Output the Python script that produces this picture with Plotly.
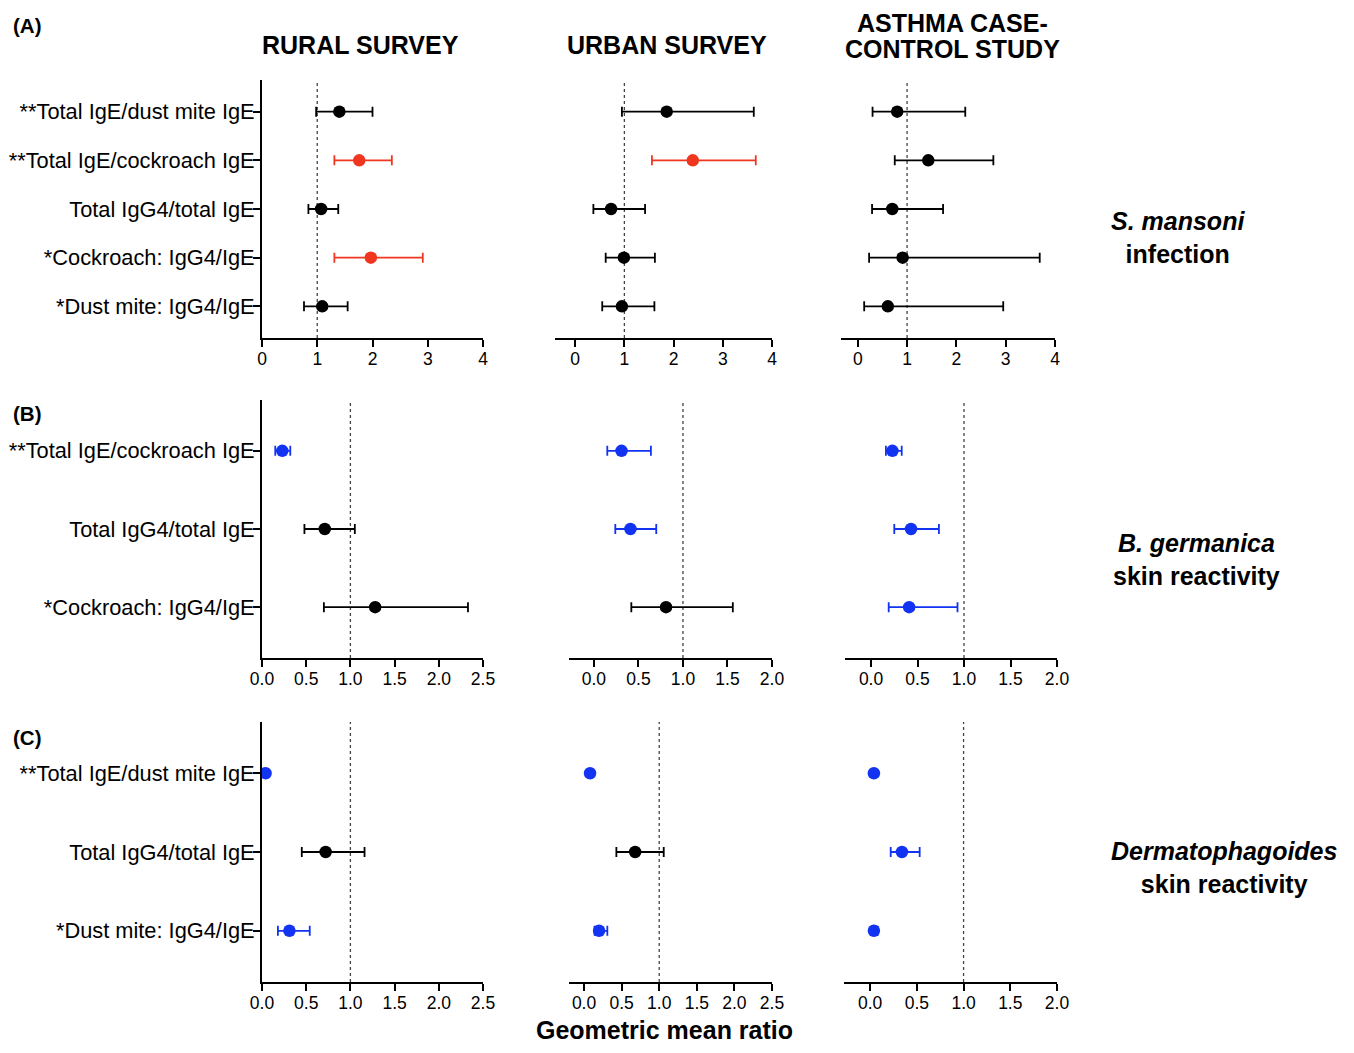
import plotly.graph_objects as go

W, H = 1354, 1053          # reference picture size
FW, FH = W - 16, H - 16    # figure size (page body has an 8px margin)

# ---------------- DATA ----------------
labels_A = ["**Total IgE/dust mite IgE", "**Total IgE/cockroach IgE", "Total IgG4/total IgE",
            "*Cockroach: IgG4/IgE", "*Dust mite: IgG4/IgE"]
labels_B = ["**Total IgE/cockroach IgE", "Total IgG4/total IgE", "*Cockroach: IgG4/IgE"]
labels_C = ["**Total IgE/dust mite IgE", "Total IgG4/total IgE", "*Dust mite: IgG4/IgE"]

columns = ["RURAL SURVEY", "URBAN SURVEY", "ASTHMA CASE-", "CONTROL STUDY"]
row_titles = ["<b><i>S. mansoni</i></b><br><b>infection</b>",
              "<b><i>B. germanica</i></b><br><b>skin reactivity</b>",
              "<b><i>Dermatophagoides</i></b><br><b>skin reactivity</b>"]
panel_tags = ["(A)", "(B)", "(C)"]
x_title = "Geometric mean ratio"

# significance: "up" = significantly increased, "down" = significantly decreased, "ns" = not significant
rural_A_est = [1.40, 1.76, 1.07, 1.97, 1.09]
rural_A_low = [0.98, 1.31, 0.84, 1.31, 0.76]
rural_A_high = [2.00, 2.35, 1.38, 2.91, 1.55]
rural_A_sig = ["ns", "up", "ns", "up", "ns"]

urban_A_est = [1.86, 2.39, 0.73, 0.99, 0.95]
urban_A_low = [0.95, 1.56, 0.37, 0.62, 0.55]
urban_A_high = [3.63, 3.67, 1.42, 1.62, 1.61]
urban_A_sig = ["ns", "up", "ns", "ns", "ns"]

asthma_A_est = [0.80, 1.43, 0.70, 0.91, 0.61]
asthma_A_low = [0.30, 0.75, 0.29, 0.23, 0.13]
asthma_A_high = [2.18, 2.75, 1.73, 3.69, 2.95]
asthma_A_sig = ["ns", "ns", "ns", "ns", "ns"]

rural_B_est = [0.23, 0.71, 1.28]
rural_B_low = [0.15, 0.48, 0.70]
rural_B_high = [0.32, 1.05, 2.33]
rural_B_sig = ["down", "ns", "ns"]

urban_B_est = [0.31, 0.41, 0.81]
urban_B_low = [0.15, 0.24, 0.42]
urban_B_high = [0.64, 0.70, 1.56]
urban_B_sig = ["down", "down", "ns"]

asthma_B_est = [0.23, 0.43, 0.41]
asthma_B_low = [0.16, 0.25, 0.19]
asthma_B_high = [0.33, 0.73, 0.93]
asthma_B_sig = ["down", "down", "down"]

rural_C_est = [0.04, 0.72, 0.31]
rural_C_low = [0.02, 0.45, 0.18]
rural_C_high = [0.07, 1.16, 0.54]
rural_C_sig = ["down", "ns", "down"]

urban_C_est = [0.08, 0.68, 0.20]
urban_C_low = [0.05, 0.43, 0.14]
urban_C_high = [0.11, 1.06, 0.31]
urban_C_sig = ["down", "ns", "down"]

asthma_C_est = [0.04, 0.34, 0.04]
asthma_C_low = [0.03, 0.22, 0.02]
asthma_C_high = [0.05, 0.53, 0.08]
asthma_C_sig = ["down", "down", "down"]

x_ranges = {
    "A": [[0, 4], [-0.41, 4], [-0.34, 4]],
    "B": [[0, 2.5], [-0.28, 2.0], [-0.28, 2.0]],
    "C": [[0, 2.5], [-0.2, 2.5], [-0.28, 2.0]],
}

# ---------------- STYLE / LAYOUT ----------------
COLORS = {"ns": "#000000", "up": "#F0361F", "down": "#1233F2"}
FONT = "Arial, Liberation Sans, Helvetica, sans-serif"


def px(x):
    return (x - 8) / FW


def py(y):
    return 1 - (y - 8) / FH


# pixel boxes for the plot areas: (x0, x1) per column per row, (ytop, ybottom) per row
x_boxes = {
    "A": [(262, 483), (555, 772), (841, 1055)],
    "B": [(262, 483), (569, 772), (845, 1057)],
    "C": [(262, 483), (569, 772), (844, 1057)],
}
y_boxes = {"A": (80, 338), "B": (400, 658), "C": (722, 982)}

panels = [
    ("A", labels_A, [
        (rural_A_est, rural_A_low, rural_A_high, rural_A_sig),
        (urban_A_est, urban_A_low, urban_A_high, urban_A_sig),
        (asthma_A_est, asthma_A_low, asthma_A_high, asthma_A_sig)]),
    ("B", labels_B, [
        (rural_B_est, rural_B_low, rural_B_high, rural_B_sig),
        (urban_B_est, urban_B_low, urban_B_high, urban_B_sig),
        (asthma_B_est, asthma_B_low, asthma_B_high, asthma_B_sig)]),
    ("C", labels_C, [
        (rural_C_est, rural_C_low, rural_C_high, rural_C_sig),
        (urban_C_est, urban_C_low, urban_C_high, urban_C_sig),
        (asthma_C_est, asthma_C_low, asthma_C_high, asthma_C_sig)]),
]

fig = go.Figure()
layout_axes = {}
shapes = []
idx = 0
for key, labels, cols in panels:
    n = len(labels)
    ypos = list(range(n, 0, -1))
    ytop, ybot = y_boxes[key]
    for c, (est, low, high, sig) in enumerate(cols):
        idx += 1
        xs = "" if idx == 1 else str(idx)
        xref, yref = "x" + xs, "y" + xs
        x0, x1 = x_boxes[key][c]
        for i in range(n):
            col = COLORS[sig[i]]
            fig.add_trace(go.Scatter(
                x=[est[i]], y=[ypos[i]], mode="markers",
                marker=dict(symbol="circle", size=12.5, color=col),
                error_x=dict(type="data", symmetric=False,
                             array=[high[i] - est[i]], arrayminus=[est[i] - low[i]],
                             color=col, thickness=1.8, width=5),
                xaxis=xref, yaxis=yref, showlegend=False, hoverinfo="x+y"))
        is_row_A = key == "A"
        layout_axes["xaxis" + xs] = dict(
            domain=[px(x0), px(x1)], anchor=yref, range=x_ranges[key][c], automargin=False,
            showline=True, linewidth=2, linecolor="black", ticks="outside",
            ticklen=7, tickwidth=2, tickcolor="black", showgrid=False, zeroline=False,
            ticklabelstandoff=-3,
            tickmode="linear", tick0=0, dtick=1 if is_row_A else 0.5,
            tickformat="d" if is_row_A else ".1f",
            tickfont=dict(family=FONT, size=17.5, color="black"), fixedrange=True)
        if c == 0:
            layout_axes["yaxis" + xs] = dict(
                domain=[py(ybot), py(ytop)], anchor=xref, range=[0.35, n + 0.65], automargin=False,
                showline=True, linewidth=2, linecolor="black", ticks="outside",
                ticklen=7, tickwidth=2, tickcolor="black", showgrid=False, zeroline=False,
                ticklabelstandoff=-6,
                tickmode="array", tickvals=ypos, ticktext=labels,
                tickfont=dict(family=FONT, size=21.8, color="black"), fixedrange=True)
        else:
            layout_axes["yaxis" + xs] = dict(
                domain=[py(ybot), py(ytop)], anchor=xref, range=[0.35, n + 0.65], automargin=False,
                visible=False, showgrid=False, zeroline=False, fixedrange=True)
        shapes.append(dict(type="line", xref=xref, yref=yref + " domain",
                           x0=1, x1=1, y0=0, y1=1,
                           line=dict(color="#444444", width=1.3, dash="dot"), layer="below"))

annotations = []
# column titles
title_font = dict(family=FONT, size=25, color="black")
annotations.append(dict(text="<b>" + columns[0] + "</b>", x=px(360), y=py(45), yanchor="middle"))
annotations.append(dict(text="<b>" + columns[1] + "</b>", x=px(667), y=py(45), yanchor="middle"))
annotations.append(dict(text="<b>" + columns[2] + "</b>", x=px(952), y=py(8), yanchor="top"))
annotations.append(dict(text="<b>" + columns[3] + "</b>", x=px(952), y=py(49), yanchor="middle"))
for a in annotations:
    a.update(xref="paper", yref="paper", showarrow=False, xanchor="center",
             font=title_font, borderpad=0)

for t, (cx, cy) in zip(row_titles, [(1178, 237), (1196, 559), (1224, 867)]):
    annotations.append(dict(text=t, x=px(cx), y=py(cy), xref="paper", yref="paper",
                            showarrow=False, xanchor="center", yanchor="middle", align="center",
                            font=dict(family=FONT, size=25, color="black")))

for t, cy in zip(panel_tags, [25, 413, 737]):
    annotations.append(dict(text="<b>" + t + "</b>", x=px(11), y=py(cy), xref="paper", yref="paper",
                            showarrow=False, xanchor="left", yanchor="middle",
                            font=dict(family=FONT, size=20.5, color="black")))

annotations.append(dict(text="<b>" + x_title + "</b>", x=px(664), y=0, xref="paper",
                        yref="paper", showarrow=False, xanchor="center", yanchor="bottom",
                        borderpad=0, font=dict(family=FONT, size=25, color="black")))

fig.update_layout(
    width=FW, height=FH, margin=dict(l=0, r=0, t=0, b=0, autoexpand=False),
    paper_bgcolor="white", plot_bgcolor="white",
    font=dict(family=FONT, color="black"),
    shapes=shapes, annotations=annotations, showlegend=False,
    **layout_axes)

fig.write_html("out.html")
